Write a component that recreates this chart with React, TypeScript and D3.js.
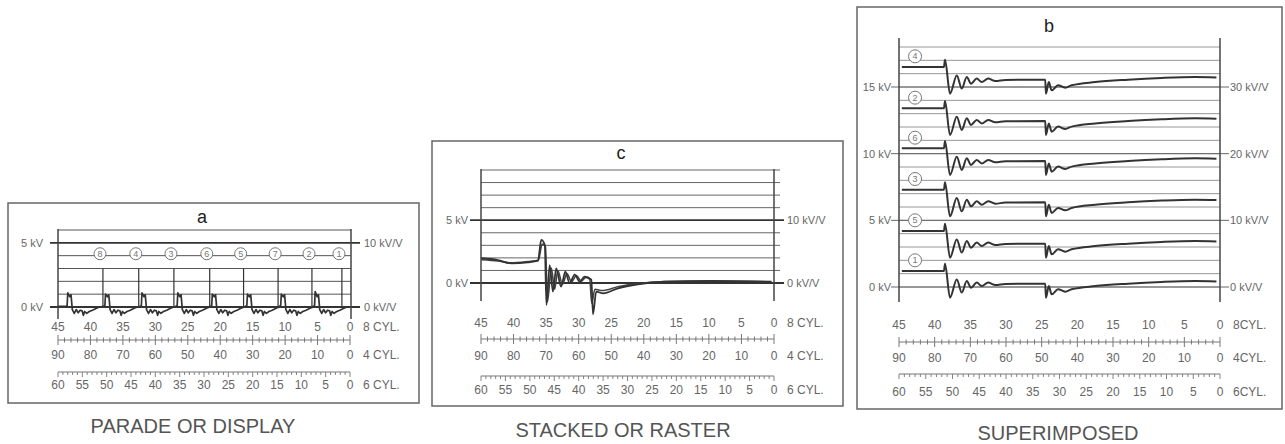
import React from "react";
import * as d3 from "d3";

// crank degree scales under every panel
const cyl8Ticks = [45, 40, 35, 30, 25, 20, 15, 10, 5, 0];
const cyl4Ticks = [90, 80, 70, 60, 50, 40, 30, 20, 10, 0];
const cyl6Ticks = [60, 55, 50, 45, 40, 35, 30, 25, 20, 15, 10, 5, 0];

// a: parade
const paradeOrder = ["8", "4", "3", "6", "5", "7", "2", "1"];
const paradeFiringAt = [38.1, 32.6, 27.2, 21.7, 16.5, 11.2, 6.0, 1.4];
const paradeSparkAt = [43.5, 37.7, 32.1, 26.6, 21.3, 15.9, 10.7, 5.5];
const paradeSparkPeak = [1.1, 1.0, 1.1, 1.1, 1.0, 1.0, 1.0, 1.2];
const paradeShapeOffset = [-0.3, -0.1, 0, 0.3, 0.5, 0.7, 1.0, 1.3, 1.6, 1.9, 2.2, 2.4, 2.6, 2.9, 3.3, 3.8, 4.4, 4.9];
const paradeShapeKv = [0.05, 0.1, 1.1, 0.8, 0.95, -0.2, -0.5, -0.2, -0.45, -0.25, -0.3, -0.65, -0.35, -0.5, -0.35, -0.25, -0.1, 0.0];

// c: superimposed traces
const cDegA = [44.95, 42.4, 40.35, 37.8, 36.25, 35.75, 35.2, 34.95, 34.45, 33.95, 33.45, 32.7, 32.05, 31.4, 30.6, 29.85, 29.1, 28.05, 27.8, 27.3, 26.25, 23.95, 20.9, 16.8, 9.6, 0.4];
const cKvA = [1.97, 1.83, 1.57, 1.65, 1.78, 3.43, 3.03, -1.75, 1.43, -0.69, 1.17, -0.29, 0.9, 0.0, 0.66, 0.1, 0.5, 0.26, -2.5, -0.69, -0.82, -0.42, -0.1, 0.1, 0.16, 0.1];
const cDegB = [44.95, 42.4, 40.35, 37.8, 36.2, 35.6, 35.1, 34.8, 34.2, 33.7, 33.2, 32.5, 31.8, 31.1, 30.35, 29.6, 28.9, 28.3, 28.0, 27.5, 26.4, 24.0, 21.0, 16.8, 9.6, 0.4];
const cKvB = [1.85, 1.75, 1.6, 1.7, 1.8, 3.1, 2.9, -1.5, 1.2, -0.5, 1.0, -0.1, 0.75, 0.1, 0.6, 0.15, 0.45, 0.3, -1.6, -0.5, -0.6, -0.3, -0.05, 0.12, 0.16, 0.1];

// b: raster, one shape per cylinder shifted up
const bOrder = ["1", "5", "3", "6", "2", "4"];
const bBaseKv = [1.2, 4.2, 7.3, 10.4, 13.4, 16.5];
const bShapeDeg = [44.6, 38.7, 38.55, 37.85, 36.9, 36.2, 35.5, 34.9, 34.1, 33.4, 32.5, 31.5, 30.1, 24.5, 24.4, 24.0, 23.6, 22.7, 21.7, 20.8, 17.5, 12.9, 8.2, 3.5, 0.5];
const bShapeKv = [0, 0, 0.55, -2.0, -0.63, -1.62, -0.75, -1.25, -0.87, -1.13, -0.87, -1.05, -0.97, -0.95, -2.0, -1.13, -1.75, -1.37, -1.55, -1.37, -1.13, -0.95, -0.82, -0.75, -0.78];

const TXT = "#666";
const FONT = "Liberation Sans, Arial, sans-serif";

type Pt = [number, number];

const BottomScales = ({ x0, x1, y8, yr1, y4, yr2, y6, nameX, names }: any) => {
  const s8 = d3.scaleLinear().domain([45, 0]).range([x0, x1]);
  const s4 = d3.scaleLinear().domain([90, 0]).range([x0, x1]);
  const s6 = d3.scaleLinear().domain([60, 0]).range([x0, x1]);
  const t = { fontSize: 12, fill: TXT, textAnchor: "middle" as const, dominantBaseline: "central" as const };
  return (
    <g fontFamily={FONT}>
      {cyl8Ticks.map((v) => (
        <text key={"a" + v} x={s8(v)} y={y8} {...t}>{v}</text>
      ))}
      <line x1={x0} x2={x1} y1={yr1} y2={yr1} stroke="#777" strokeWidth={1} />
      {d3.range(0, 46).map((v) => {
        const h = v % 5 === 0 ? 5 : 2.5;
        return <line key={"r" + v} x1={s8(v)} x2={s8(v)} y1={yr1 - h} y2={yr1 + h} stroke="#777" strokeWidth={1} />;
      })}
      {cyl4Ticks.map((v) => (
        <text key={"b" + v} x={s4(v)} y={y4} {...t}>{v}</text>
      ))}
      <line x1={x0} x2={x1} y1={yr2} y2={yr2} stroke="#777" strokeWidth={1} />
      {d3.range(0, 61).map((v) => (
        <line key={"q" + v} x1={s6(v)} x2={s6(v)} y1={yr2} y2={yr2 + (v % 5 === 0 ? 5 : 3)} stroke="#777" strokeWidth={0.9} />
      ))}
      {cyl6Ticks.map((v) => (
        <text key={"c" + v} x={s6(v)} y={y6} {...t}>{v}</text>
      ))}
      {names.map((n: string, i: number) => (
        <text key={n} x={nameX} y={[y8, y4, y6][i]} fontSize={12} fill={TXT} dominantBaseline="central">{n}</text>
      ))}
    </g>
  );
};

const Frame = ({ x, y, w, h, title, tx, ty, caption, cx, cy }: any) => (
  <g fontFamily={FONT}>
    <rect x={x} y={y} width={w} height={h} fill="none" stroke="#666" strokeWidth={1.5} />
    <text x={tx} y={ty} fontSize={18} fill="#222" textAnchor="middle">{title}</text>
    <text x={cx} y={cy} fontSize={20} fill="#555" textAnchor="middle">{caption}</text>
  </g>
);

const YLabels = ({ y, ticks, left, right, lx, rx, stubL, stubR, thick }: any) => (
  <g fontFamily={FONT}>
    {ticks.map((k: number, i: number) => (
      <g key={k}>
        <line x1={stubL} x2={stubR} y1={y(k)} y2={y(k)} stroke={thick ? "#333" : "#666"} strokeWidth={thick ? 1.8 : 1} />
        <text x={lx} y={y(k)} fontSize={11} fill={TXT} textAnchor="end" dominantBaseline="central">{left[i]}</text>
        <text x={rx} y={y(k)} fontSize={11} fill={TXT} dominantBaseline="central">{right[i]}</text>
      </g>
    ))}
  </g>
);

const Circle = ({ x, y, r, label }: any) => (
  <g>
    <circle cx={x} cy={y} r={r} fill="#fff" stroke="#777" strokeWidth={1} />
    <text x={x} y={y} fontSize={9} fill="#777" textAnchor="middle" dominantBaseline="central" fontFamily={FONT}>{label}</text>
  </g>
);

export default function App() {
  // ---- panel a
  const ax = d3.scaleLinear().domain([45, 0]).range([58, 351]);
  const ay = d3.scaleLinear().domain([0, 6]).range([307, 230]);
  const paradePts: Pt[] = [[45, 0.05]];
  paradeSparkAt.forEach((s, i) => {
    paradeShapeOffset.forEach((o, j) => {
      paradePts.push([s - o, j === 2 ? paradeSparkPeak[i] : paradeShapeKv[j]]);
    });
  });
  paradePts.push([0.2, 0]);
  const aLine = d3.line<Pt>().x((d) => ax(d[0])).y((d) => ay(d[1]));

  // ---- panel c
  const cx = d3.scaleLinear().domain([45, 0]).range([481, 774]);
  const cy = d3.scaleLinear().domain([0, 9]).range([283, 170]);
  const cLine = d3.line<Pt>().x((d) => cx(d[0])).y((d) => cy(d[1])).curve(d3.curveMonotoneX);
  const cA: Pt[] = cDegA.map((d, i) => [d, cKvA[i]]);
  const cB: Pt[] = cDegB.map((d, i) => [d, cKvB[i]]);

  // ---- panel b
  const bx = d3.scaleLinear().domain([45, 0]).range([899, 1220]);
  const by = d3.scaleLinear().domain([0, 18]).range([287, 47]);
  const bLine = d3.line<Pt>().x((d) => bx(d[0])).y((d) => by(d[1])).curve(d3.curveMonotoneX);

  return (
    <svg width={1285} height={444} style={{ position: "absolute", left: 0, top: 0, background: "#fff" }}>
      {/* ===== a ===== */}
      <Frame x={8} y={203} w={411} h={200} title="a" tx={202} ty={223} caption="PARADE OR DISPLAY" cx={193} cy={433} />
      {d3.range(1, 7).filter((k) => k !== 5).map((k) => (
        <line key={k} x1={ax(45)} x2={ax(0)} y1={ay(k)} y2={ay(k)} stroke="#555" strokeWidth={1} />
      ))}
      <YLabels y={ay} ticks={[5, 0]} left={["5 kV", "0 kV"]} right={["10 kV/V", "0 kV/V"]} lx={43} rx={364} stubL={50} stubR={360} thick />
      <line x1={ax(45)} x2={ax(45)} y1={229} y2={319} stroke="#444" strokeWidth={1.5} />
      <line x1={ax(0)} x2={ax(0)} y1={229} y2={319} stroke="#444" strokeWidth={1.5} />
      {paradeFiringAt.map((f) => (
        <line key={f} x1={ax(f)} x2={ax(f)} y1={ay(3)} y2={ay(0)} stroke="#333" strokeWidth={1.2} />
      ))}
      <path d={aLine(paradePts) || ""} fill="none" stroke="#333" strokeWidth={1.7} strokeLinejoin="round" />
      {paradeOrder.map((n, i) => (
        <Circle key={n} x={ax(paradeFiringAt[i] + 0.45)} y={ay(4.15)} r={6} label={n} />
      ))}
      <BottomScales x0={58} x1={350} y8={327} yr1={340} y4={355} yr2={372} y6={385} nameX={363} names={["8 CYL.", "4 CYL.", "6 CYL."]} />

      {/* ===== c ===== */}
      <Frame x={432} y={141} w={411} h={265} title="c" tx={621} ty={159} caption="STACKED OR RASTER" cx={623} cy={437} />
      {d3.range(1, 10).filter((k) => k !== 5).map((k) => (
        <line key={k} x1={cx(45)} x2={cx(0) + 6} y1={cy(k)} y2={cy(k)} stroke="#666" strokeWidth={1} />
      ))}
      <YLabels y={cy} ticks={[5, 0]} left={["5 kV", "0 kV"]} right={["10 kV/V", "0 kV/V"]} lx={468} rx={787} stubL={470} stubR={784} thick />
      <line x1={cx(45)} x2={cx(45)} y1={169} y2={301} stroke="#444" strokeWidth={1.5} />
      <line x1={cx(0)} x2={cx(0)} y1={169} y2={301} stroke="#444" strokeWidth={1.5} />
      <path d={cLine(cB) || ""} fill="none" stroke="#444" strokeWidth={1.6} strokeLinejoin="round" />
      <path d={cLine(cA) || ""} fill="none" stroke="#333" strokeWidth={1.8} strokeLinejoin="round" />
      <BottomScales x0={481} x1={774} y8={323} yr1={339} y4={356} yr2={376} y6={390} nameX={787} names={["8 CYL.", "4 CYL.", "6 CYL."]} />

      {/* ===== b ===== */}
      <Frame x={857} y={7} w={425} h={402} title="b" tx={1049} ty={32} caption="SUPERIMPOSED" cx={1058} cy={440} />
      {d3.range(0, 19).map((k) => (
        <line key={k} x1={bx(45)} x2={bx(0)} y1={by(k)} y2={by(k)} stroke="#8a8a8a" strokeWidth={0.9} />
      ))}
      <YLabels y={by} ticks={[15, 10, 5, 0]} left={["15 kV", "10 kV", "5 kV", "0 kV"]} right={["30 kV/V", "20 kV/V", "10 kV/V", "0 kV/V"]} lx={891} rx={1230} stubL={891} stubR={1229} />
      <line x1={bx(45)} x2={bx(45)} y1={38} y2={302} stroke="#444" strokeWidth={1.5} />
      <line x1={bx(0)} x2={bx(0)} y1={38} y2={302} stroke="#444" strokeWidth={1.5} />
      {bBaseKv.map((base, i) => (
        <g key={i}>
          <path d={bLine(bShapeDeg.map((d, j) => [d, base + bShapeKv[j]] as Pt)) || ""} fill="none" stroke="#333" strokeWidth={2} strokeLinejoin="round" />
          <Circle x={bx(42.75)} y={by(base + 0.8)} r={6.5} label={bOrder[i]} />
        </g>
      ))}
      <BottomScales x0={899} x1={1220} y8={325} yr1={342} y4={358} yr2={374} y6={392} nameX={1233} names={["8CYL.", "4CYL.", "6CYL."]} />
    </svg>
  );
}
